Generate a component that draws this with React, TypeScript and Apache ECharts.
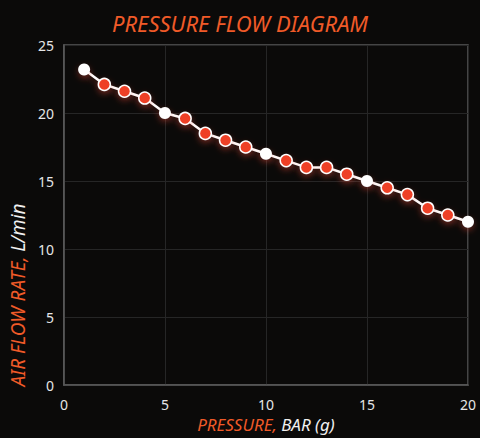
import React, { useEffect, useRef } from "react";
import * as echarts from "echarts";

const pressure = [1, 2, 3, 4, 5, 6, 7, 8, 9, 10, 11, 12, 13, 14, 15, 16, 17, 18, 19, 20];
const flowRate = [23.2, 22.1, 21.6, 21.1, 20, 19.6, 18.5, 18, 17.5, 17, 16.5, 16, 16, 15.5, 15, 14.5, 14, 13, 12.5, 12];
const highlighted = [1, 5, 10, 15, 20];

const ORANGE = "#f05a28";
const RED = "#ee4126";

export default function App() {
  const ref = useRef<HTMLDivElement>(null);
  useEffect(() => {
    if (!ref.current) return;
    const chart = echarts.init(ref.current, undefined, { renderer: "svg" });
    const data = pressure.map((p, i) => {
      const white = highlighted.includes(p);
      return {
        value: [p, flowRate[i]],
        itemStyle: {
          color: white ? "#ffffff" : RED,
          borderColor: "#ffffff",
          borderWidth: white ? 0 : 1.5,
          shadowBlur: 6,
          shadowColor: "rgba(255,80,60,0.35)",
          shadowOffsetY: 3,
        },
      };
    });
    const xFont = { fontSize: 17, fontStyle: "italic" as const, fontFamily: "Noto Sans" };
    const yFont = { fontSize: 19, fontStyle: "italic" as const, fontFamily: "Noto Sans" };
    chart.setOption({
      animation: false,
      backgroundColor: "#0b0a09",
      title: {
        text: "PRESSURE FLOW DIAGRAM",
        left: "center",
        top: 7,
        textStyle: {
          color: ORANGE,
          fontStyle: "italic",
          fontWeight: "normal",
          fontSize: 22,
          fontFamily: "Noto Sans",
        },
      },
      grid: { left: 62, right: 12, top: 45, bottom: 52, show: true, borderColor: "#5a5a5a", borderWidth: 1.5, backgroundColor: "transparent" },
      xAxis: {
        type: "value",
        min: 0,
        max: 20,
        interval: 5,
        name: "{o|PRESSURE,} {w|BAR (g)}",
        nameLocation: "middle",
        nameGap: 31,
        nameTextStyle: {
          ...xFont,
          color: "#f0f0f0",
          rich: { o: { ...xFont, color: ORANGE }, w: { ...xFont, color: "#f0f0f0" } },
        },
        axisLine: { show: true, lineStyle: { color: "#5a5a5a", width: 1.5 } },
        axisTick: { show: false },
        axisLabel: { color: "#e6e6e6", fontSize: 14, margin: 12, fontFamily: "Noto Sans" },
        splitLine: { show: true, lineStyle: { color: "#262626", width: 1 } },
      },
      yAxis: {
        type: "value",
        min: 0,
        max: 25,
        interval: 5,
        name: "{o|AIR FLOW RATE,} {w|L/min}",
        nameLocation: "middle",
        nameRotate: 90,
        nameGap: 29,
        nameTextStyle: {
          ...yFont,
          color: "#f0f0f0",
          padding: [0, 160, 0, 0],
          rich: { o: { ...yFont, color: ORANGE }, w: { ...yFont, color: "#f0f0f0" } },
        },
        axisLine: { show: true, lineStyle: { color: "#5a5a5a", width: 1.5 } },
        axisTick: { show: false },
        axisLabel: { color: "#e6e6e6", fontSize: 14, margin: 10, fontFamily: "Noto Sans" },
        splitLine: { show: true, lineStyle: { color: "#262626", width: 1 } },
      },
      series: [
        {
          type: "line",
          data,
          symbol: "circle",
          symbolSize: 12,
          lineStyle: { color: "#ffffff", width: 2.5, shadowBlur: 6, shadowColor: "rgba(255,80,60,0.3)", shadowOffsetY: 3 },
          z: 3,
        },
      ],
    });
    return () => chart.dispose();
  }, []);
  return <div ref={ref} style={{ width: 480, height: 438, position: "absolute", left: 0, top: 0 }} />;
}
